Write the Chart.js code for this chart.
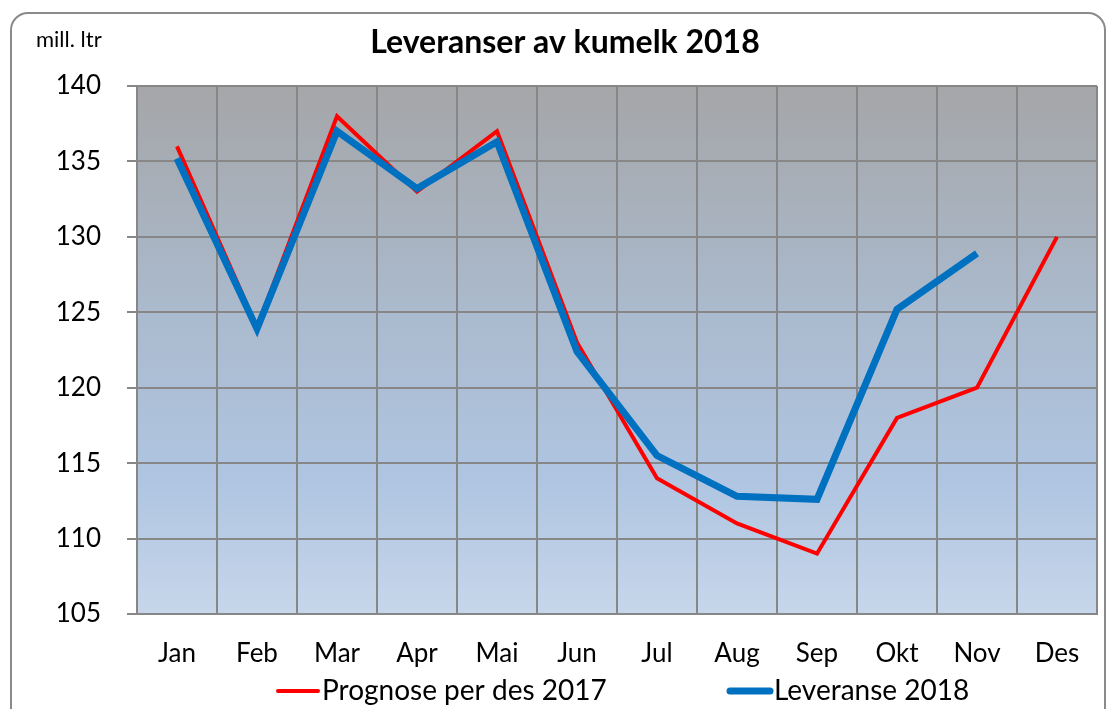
<!DOCTYPE html>
<html>
<head>
<meta charset="utf-8">
<script src="https://cdn.jsdelivr.net/npm/chart.js@4.4.1/dist/chart.umd.min.js"></script>
<style>
  html, body { margin: 0; padding: 0; background: #fff; }
  #wrap { position: relative; width: 1111px; height: 709px; overflow: hidden; }
  #frame { position: absolute; left: 10px; top: 12px; width: 1096px; height: 740px;
           border: 2px solid #8a8a8a; border-radius: 18px; box-sizing: border-box; }
  canvas { position: absolute; left: 0; top: 0; }
</style>
</head>
<body>
<div id="wrap">
  <div id="frame"></div>
  <canvas id="myChart" width="1111" height="709"></canvas>
</div>
<script>
// Kategorier og verdier
const maaneder = ['Jan', 'Feb', 'Mar', 'Apr', 'Mai', 'Jun', 'Jul', 'Aug', 'Sep', 'Okt', 'Nov', 'Des'];
const prognose = [136, 124, 138, 133, 137, 123, 114, 111, 109, 118, 120, 130];
const leveranse = [135.2, 123.9, 137.0, 133.2, 136.3, 122.4, 115.5, 112.8, 112.6, 125.2, 128.9, null];
const yMin = 105;
const yMax = 140;
const yStep = 5;

const fontFam = 'Lato, "Open Sans", sans-serif';

// bakgrunn i plottet (gradient), tittel, enhet og tegnforklaring
const tegnEkstra = {
  id: 'tegnEkstra',
  beforeDraw(chart) {
    const { ctx, chartArea } = chart;
    const g = ctx.createLinearGradient(0, chartArea.top, 0, chartArea.bottom);
    g.addColorStop(0, '#a5a6a8');
    g.addColorStop(0.45, '#abbbcf');
    g.addColorStop(0.75, '#afc5e1');
    g.addColorStop(1, '#c7d6ea');
    ctx.save();
    ctx.fillStyle = g;
    ctx.fillRect(chartArea.left, chartArea.top, chartArea.right - chartArea.left, chartArea.bottom - chartArea.top);
    ctx.restore();
  },
  afterDraw(chart) {
    const ctx = chart.ctx;
    ctx.save();
    ctx.fillStyle = '#000';
    ctx.textBaseline = 'middle';

    ctx.font = '22px ' + fontFam;
    ctx.fillText('mill. ltr', 36, 40);

    ctx.font = 'bold 32px ' + fontFam;
    ctx.textAlign = 'center';
    ctx.fillText('Leveranser av kumelk 2018', 565, 43);

    // tegnforklaring
    ctx.textAlign = 'left';
    ctx.font = '28px ' + fontFam;
    const startX = [275, 727];
    const ly = 691;
    chart.data.datasets.forEach((ds, i) => {
      ctx.strokeStyle = ds.borderColor;
      ctx.lineWidth = ds.borderWidth;
      ctx.lineCap = 'round';
      ctx.beginPath();
      ctx.moveTo(startX[i] + 3, ly);
      ctx.lineTo(startX[i] + 43, ly);
      ctx.stroke();
      ctx.fillText(ds.label, startX[i] + 47, ly);
    });
    ctx.restore();
  }
};

const ctx = document.getElementById('myChart').getContext('2d');
new Chart(ctx, {
  type: 'line',
  data: {
    labels: maaneder,
    datasets: [{
      label: 'Prognose per des 2017',
      data: prognose,
      borderColor: '#ff0000',
      backgroundColor: '#ff0000',
      borderWidth: 4,
      pointRadius: 0,
      tension: 0,
      order: 1
    }, {
      label: 'Leveranse 2018',
      data: leveranse,
      borderColor: '#0070c0',
      backgroundColor: '#0070c0',
      borderWidth: 7,
      pointRadius: 0,
      tension: 0,
      order: 0
    }]
  },
  options: {
    responsive: false,
    animation: false,
    layout: { padding: { left: 0, right: 14, top: 86, bottom: 38 } },
    plugins: {
      title: { display: false },
      legend: { display: false },
      tooltip: { enabled: false }
    },
    scales: {
      x: {
        offset: true,
        grid: { offset: true, color: '#878787', lineWidth: 2, drawTicks: false },
        border: { color: '#878787', width: 2 },
        ticks: { color: '#000', font: { family: fontFam, size: 26 }, padding: 24 },
        afterFit(scale) { scale.height = 57; }
      },
      y: {
        min: yMin,
        max: yMax,
        ticks: { stepSize: yStep, color: '#000', font: { family: fontFam, size: 26 }, padding: 26 },
        grid: { color: '#878787', lineWidth: 2, tickLength: 10 },
        border: { color: '#878787', width: 2 },
        afterFit(scale) { scale.width = 137; }
      }
    }
  },
  plugins: [tegnEkstra]
});
</script>
</body>
</html>
